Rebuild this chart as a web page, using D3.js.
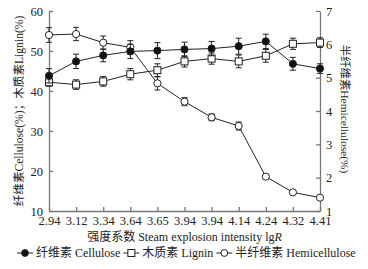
<!DOCTYPE html>
<html>
<head>
<meta charset="utf-8">
<script src="https://cdn.jsdelivr.net/npm/d3@7"></script>
<style>
  body { margin: 0; background: #fff; }
  text { font-family: "Liberation Serif", "Noto Sans CJK SC", serif; fill: #222; }
</style>
</head>
<body>
<svg width="368" height="269"></svg>
<script>
// category labels on the x axis (severity factor lgR)
const categories = ["2.94", "3.12", "3.34", "3.64", "3.65", "3.94", "3.94b", "4.14", "4.24", "4.32", "4.41"];
const tickLabels = ["2.94", "3.12", "3.34", "3.64", "3.65", "3.94", "3.94", "4.14", "4.24", "4.32", "4.41"];

// cellulose and lignin (%), left axis
const cellulose = [43.8, 47.4, 48.9, 49.9, 50.1, 50.4, 50.6, 51.2, 52.4, 46.8, 45.6];
const celluloseErr = [1.8, 1.8, 1.6, 1.8, 2.0, 1.8, 1.8, 2.0, 1.8, 1.6, 1.2];
const lignin = [42.2, 41.6, 42.4, 44.2, 45.2, 47.4, 48.1, 47.4, 48.8, 51.8, 52.1];
const ligninErr = [1.0, 1.2, 1.2, 1.4, 1.6, 1.4, 1.4, 1.6, 1.6, 1.4, 1.2];

// hemicellulose (%), right axis
const hemi = [6.28, 6.31, 6.05, 5.91, 4.83, 4.28, 3.81, 3.55, 2.03, 1.56, 1.40];
const hemiErr = [0.22, 0.2, 0.2, 0.2, 0.2, 0.12, 0.1, 0.12, 0, 0, 0];

const leftTicks = [10, 20, 30, 40, 50, 60];
const rightTicks = [1, 2, 3, 4, 5, 6, 7];

svg = d3.select("svg");
const mLeft = 49, mRight = 320, mTop = 11, mBottom = 211;

xScale = d3.scalePoint().domain(categories).range([mLeft, mRight]).padding(0);
yLeft = d3.scaleLinear().domain([10, 60]).range([mBottom, mTop]);
yRight = d3.scaleLinear().domain([1, 7]).range([mBottom, mTop]);

// axes, ticks pointing into the plot
xAxis = svg.append("g")
  .attr("transform", "translate(0," + mBottom + ")")
  .call(d3.axisBottom(xScale).tickSizeInner(-4).tickSizeOuter(0).tickPadding(5)
    .tickFormat(function(d, i) { return tickLabels[i]; }));
lAxis = svg.append("g")
  .attr("transform", "translate(" + mLeft + ",0)")
  .call(d3.axisLeft(yLeft).tickValues(leftTicks).tickFormat(d3.format("d"))
    .tickSizeInner(-4).tickSizeOuter(0).tickPadding(6));
rAxis = svg.append("g")
  .attr("transform", "translate(" + mRight + ",0)")
  .call(d3.axisRight(yRight).tickValues(rightTicks).tickFormat(d3.format("d"))
    .tickSizeInner(-4).tickSizeOuter(0).tickPadding(6));

[xAxis, lAxis, rAxis].forEach(function(a) {
  a.selectAll("path, line").attr("stroke", "#777").attr("stroke-width", 1.3);
  a.selectAll("text").attr("font-size", 12.5).attr("fill", "#222")
    .style("font-family", "'Liberation Serif', serif");
});

// axis titles
svg.append("text")
  .attr("x", (mLeft + mRight) / 2).attr("y", 241)
  .attr("text-anchor", "middle").attr("font-size", 12)
  .html('强度系数 Steam explosion intensity lg<tspan font-style="italic">R</tspan>');

svg.append("text")
  .attr("transform", "translate(23,111) rotate(-90)")
  .attr("text-anchor", "middle").attr("font-size", 11.6)
  .text("纤维素Cellulose(%)；木质素Lignin(%)");

svg.append("text")
  .attr("transform", "translate(341,109) rotate(90)")
  .attr("text-anchor", "middle").attr("font-size", 11.4)
  .text("半纤维素Hemicellulose(%)");

// draw one series: line, error bars, markers
function drawSeries(vals, errs, y, marker) {
  g = svg.append("g");
  line = d3.line()
    .x(function(d, i) { return xScale(categories[i]); })
    .y(function(d) { return y(d); });
  g.append("path").datum(vals)
    .attr("fill", "none").attr("stroke", "#222").attr("stroke-width", 1)
    .attr("d", line);

  vals.forEach(function(v, i) {
    x = xScale(categories[i]);
    e = errs[i];
    if (e > 0) {
      g.append("line").attr("x1", x).attr("x2", x)
        .attr("y1", y(v - e)).attr("y2", y(v + e)).attr("stroke", "#222");
      [v - e, v + e].forEach(function(t) {
        g.append("line").attr("x1", x - 3).attr("x2", x + 3)
          .attr("y1", y(t)).attr("y2", y(t)).attr("stroke", "#222");
      });
    }
  });

  vals.forEach(function(v, i) {
    x = xScale(categories[i]);
    if (marker == "square") {
      g.append("rect").attr("x", x - 3.5).attr("y", y(v) - 3.5)
        .attr("width", 7).attr("height", 7)
        .attr("fill", "#fff").attr("stroke", "#222");
    } else {
      g.append("circle").attr("cx", x).attr("cy", y(v)).attr("r", 3.6)
        .attr("fill", marker == "filled" ? "#111" : "#fff").attr("stroke", "#222");
    }
  });
}

drawSeries(hemi, hemiErr, yRight, "open");
drawSeries(lignin, ligninErr, yLeft, "square");
drawSeries(cellulose, celluloseErr, yLeft, "filled");

// legend
legendItems = [
  { label: "纤维素 Cellulose", marker: "filled" },
  { label: "木质素 Lignin", marker: "square" },
  { label: "半纤维素 Hemicellulose", marker: "open" }
];
lg = svg.append("g").attr("transform", "translate(0,257)");
lx = 17;
legendItems.forEach(function(it) {
  lg.append("line").attr("x1", lx).attr("x2", lx + 16).attr("y1", -4).attr("y2", -4).attr("stroke", "#222");
  if (it.marker == "square") {
    lg.append("rect").attr("x", lx + 4.5).attr("y", -7.5).attr("width", 7).attr("height", 7)
      .attr("fill", "#fff").attr("stroke", "#222");
  } else {
    lg.append("circle").attr("cx", lx + 8).attr("cy", -4).attr("r", 3.4)
      .attr("fill", it.marker == "filled" ? "#111" : "#fff").attr("stroke", "#222");
  }
  t = lg.append("text").attr("x", lx + 19).attr("y", 0).attr("font-size", 12).text(it.label);
  lx = lx + 19 + t.node().getComputedTextLength() + 3;
});
</script>
</body>
</html>
